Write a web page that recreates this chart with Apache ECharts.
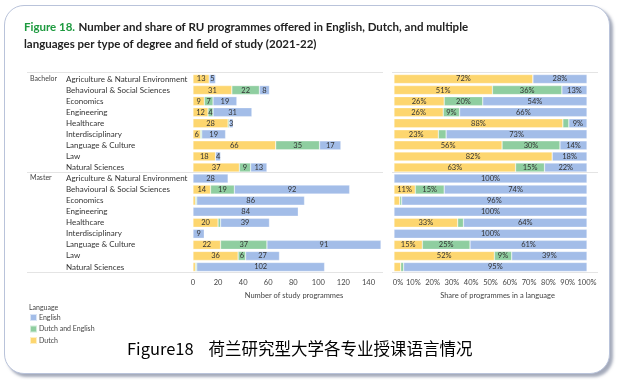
<!DOCTYPE html>
<html><head><meta charset="utf-8">
<script src="https://cdn.jsdelivr.net/npm/echarts@6/dist/echarts.min.js"></script>
<style>
html,body{margin:0;padding:0;background:#fff;}
#card{position:absolute;left:4px;top:5px;width:604px;height:367px;border:1px solid #b9c3da;border-radius:20px;box-shadow:3px 3px 3px rgba(90,100,130,0.55);background:#fff;}
#c{position:absolute;left:0;top:0;width:617px;height:381px;}
</style></head>
<body><div id="card"></div><div id="c"></div>
<script>
const fields = ['Agriculture & Natural Environment','Behavioural & Social Sciences','Economics','Engineering','Healthcare','Interdisciplinary','Language & Culture','Law','Natural Sciences'];
const degrees = ['Bachelor','Master'];
const seriesNames = ['Dutch','Dutch and English','English'];
const countTicks = [0,20,40,60,80,100,120,140];
const shareTicks = [0,10,20,30,40,50,60,70,80,90,100];

// Number of study programmes (Bachelor rows then Master rows)
const countDutch   = [13,31,9,12,28,6,66,18,37,  0,14,2,0,20,0,22,36,2];
const countMixed   = [0,22,7,4,1,1,35,0,9,        0,19,1,0,2,0,37,6,1];
const countEnglish = [5,8,19,31,3,19,17,4,13,     28,92,86,84,39,9,91,27,102];

// Share of programmes in a language (%)
const shareDutch   = [72,51,26,25.5,87.5,23,56,82,63,   0,11,3,0,33,0,14.7,52,3.5];
const shareMixed   = [0,36,20,8.5,3.1,4,30,0,15,        0,15,1,0,3,0,24.7,9,1.5];
const shareEnglish = [28,13,54,66,9.4,73,14,18,22,      100,74,96,100,64,100,60.6,39,95];

const colors = {'Dutch':'#fdd66f','Dutch and English':'#8fcea0','English':'#a3bde8'};

const cats = [];
degrees.forEach(d => fields.forEach(f => cats.push(d + '|' + f)));

const chart = echarts.init(document.getElementById('c'), null, {renderer:'canvas'});
const FONT = 'Lato';
const labelCommon = {show:true, position:'inside', color:'#333', fontSize:7.5, fontFamily:FONT};

function mk(name, data, gi, stack, fmt){
  return {
    name: name, type:'bar', stack: stack, xAxisIndex: gi, yAxisIndex: gi,
    data: data, barWidth: 9,
    itemStyle:{color: colors[name], borderColor:'rgba(255,255,255,0.6)', borderWidth:0.5},
    label: Object.assign({}, labelCommon, {formatter: fmt}),
    emphasis:{disabled:true}
  };
}
const fmtCount = p => p.value >= 3 ? String(p.value) : '';
const fmtShare = p => p.value >= 5 ? Math.round(p.value) + '%' : '';

const series = [
  mk('Dutch', countDutch, 0, 'c', fmtCount),
  mk('Dutch and English', countMixed, 0, 'c', fmtCount),
  mk('English', countEnglish, 0, 'c', fmtCount),
  mk('Dutch', shareDutch, 1, 's', fmtShare),
  mk('Dutch and English', shareMixed, 1, 's', fmtShare),
  mk('English', shareEnglish, 1, 's', fmtShare)
];

const axisLabelX = {color:'#444', fontSize:7.5, fontFamily:FONT, margin:6};
const lineColor = '#e4e4e4';
const TF = 11.5;

chart.setOption({
  animation:false,
  textStyle:{fontFamily:FONT},
  grid:[
    {left:193, top:73.5, width:188, height:199, containLabel:false},
    {left:394, top:73.5, width:193, height:199, containLabel:false}
  ],
  xAxis:[
    {gridIndex:0, type:'value', min:countTicks[0], max:150, interval:countTicks[1]-countTicks[0],
     axisLine:{show:false}, axisTick:{show:false}, splitLine:{show:false},
     axisLabel:Object.assign({}, axisLabelX, {showMaxLabel:false, formatter: v => countTicks.indexOf(v) >= 0 ? String(v) : ''}),
     name:'Number of study programmes', nameLocation:'middle', nameGap:17,
     nameTextStyle:{color:'#444', fontSize:7.5, fontFamily:FONT, padding:[0,0,0,14]}},
    {gridIndex:1, type:'value', min:shareTicks[0], max:shareTicks[shareTicks.length-1], interval:shareTicks[1]-shareTicks[0],
     axisLine:{show:false}, axisTick:{show:false}, splitLine:{show:false},
     axisLabel:Object.assign({}, axisLabelX, {formatter: v => v === 0 ? '{z|0%}' : v + '%', rich:{z:{padding:[0,0,0,8], fontSize:7.5, color:'#444', fontFamily:FONT}}}),
     name:'Share of programmes in a language', nameLocation:'middle', nameGap:17,
     nameTextStyle:{color:'#444', fontSize:7.5, fontFamily:FONT, padding:[0,0,0,14]}}
  ],
  yAxis:[
    {gridIndex:0, type:'category', data:cats, inverse:true,
     axisLine:{show:false}, axisTick:{show:false},
     axisLabel:{align:'left', margin:127, color:'#333', fontSize:8, fontFamily:FONT, formatter: v => v.split('|')[1]}},
    {gridIndex:1, type:'category', data:cats, inverse:true,
     axisLine:{show:false}, axisTick:{show:false}, axisLabel:{show:false}}
  ],
  legend:{
    data:['English','Dutch and English','Dutch'], orient:'vertical', left:29, top:313, padding:0,
    itemWidth:7, itemHeight:7, itemGap:2.5, icon:'rect',
    textStyle:{color:'#444', fontSize:7, fontFamily:FONT, padding:[0,0,0,-3]}
  },
  graphic:[
    {type:'text', left:24, top:21.5, style:{
      rich:{g:{fill:'#1d9a3f', fontSize:TF, fontWeight:'bold', fontFamily:FONT},
            t:{fill:'#222', fontSize:TF, fontWeight:'bold', fontFamily:FONT}},
      text:'{g|Figure 18.} {t|Number and share of RU programmes offered in English, Dutch, and multiple}'}},
    {type:'text', left:24, top:38.5, style:{fill:'#222', fontSize:TF, fontWeight:'bold', fontFamily:FONT,
      text:'languages per type of degree and field of study (2021-22)'}},
    {type:'text', left:30, top:75, style:{fill:'#444', fontSize:7, fontFamily:FONT, text:degrees[0]}},
    {type:'text', left:30, top:174, style:{fill:'#444', fontSize:7, fontFamily:FONT, text:degrees[1]}},
    {type:'text', left:29, top:304, style:{fill:'#444', fontSize:7, fontFamily:FONT, text:'Language'}},
    {type:'line', shape:{x1:27,y1:72.5,x2:383,y2:72.5}, style:{stroke:lineColor, lineWidth:1}},
    {type:'line', shape:{x1:392,y1:72.5,x2:598,y2:72.5}, style:{stroke:lineColor, lineWidth:1}},
    {type:'line', shape:{x1:27,y1:172.5,x2:383,y2:172.5}, style:{stroke:lineColor, lineWidth:1}},
    {type:'line', shape:{x1:392,y1:172.5,x2:598,y2:172.5}, style:{stroke:lineColor, lineWidth:1}},
    {type:'line', shape:{x1:27,y1:272.5,x2:383,y2:272.5}, style:{stroke:lineColor, lineWidth:1}},
    {type:'line', shape:{x1:392,y1:272.5,x2:598,y2:272.5}, style:{stroke:lineColor, lineWidth:1}},
    {type:'text', left:127, top:340, style:{fill:'#000', fontSize:16.5, fontFamily:'"Noto Sans CJK SC"',
      text:'Figure18    荷兰研究型大学各专业授课语言情况'}}
  ],
  series: series
});
</script></body></html>
